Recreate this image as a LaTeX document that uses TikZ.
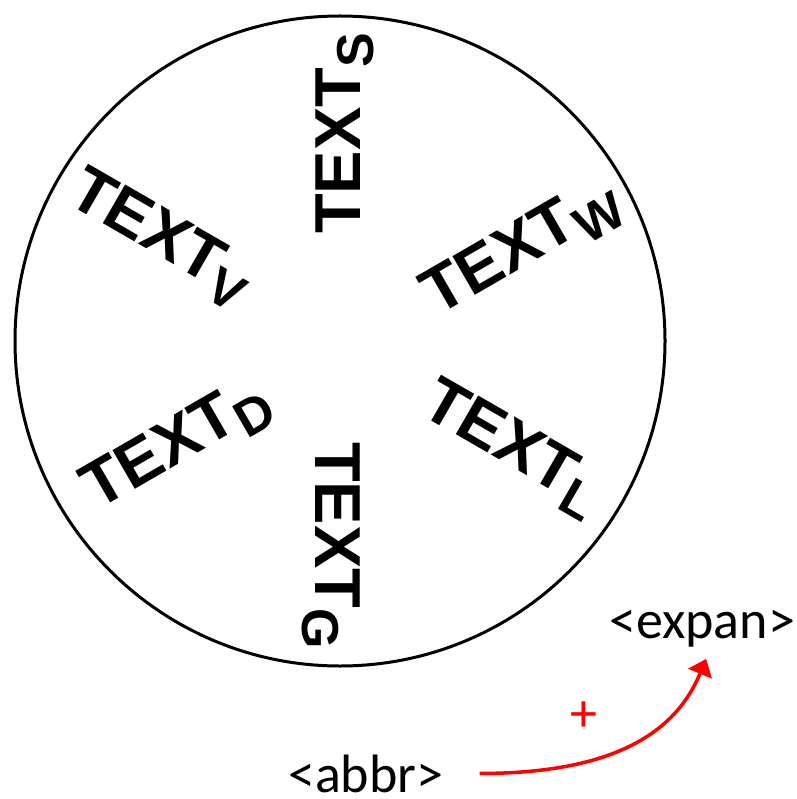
\documentclass[tikz,border=0pt]{standalone}
\usepackage{fontspec}
\usetikzlibrary{arrows.meta}
\newfontfamily\lsans{Liberation Sans}
\newfontfamily\calib{Carlito}
\newcommand\sbx[1]{\raisebox{-13pt}{\fontsize{52}{52}\selectfont #1}}
\definecolor{arrred}{RGB}{255,0,0}
\tikzset{
  big/.style={font=\lsans\bfseries\fontsize{65}{65}\selectfont, inner sep=0pt, anchor=base west},
  lab/.style={font=\calib\fontsize{54}{54}\selectfont, inner sep=0pt, anchor=base west},
  ring/.style={draw=black, line width=3pt},
  conn/.style={draw=arrred, line width=3.5pt, -{Triangle[length=16pt,width=25pt]}}
}
\begin{document}
\begin{tikzpicture}[x=1pt,y=-1pt]
\useasboundingbox (0,0) rectangle (796,799);
\draw[ring] (340,341) circle[radius=325pt];
\node[big, rotate=90] (ts) at (360,234) {TEXT\sbx{S}};
\node[big, rotate=30] (tw) at (437,317) {TEXT\sbx{W}};
\node[big, rotate=-30] (tl) at (418,413) {TEXT\sbx{L}};
\begin{scope}
\clip (0,0) rectangle (796,645);
\node[big, rotate=-90] (tg) at (315,442) {TEXT\sbx{G}};
\end{scope}
\node[big, rotate=30] (td) at (97,511) {TEXT\sbx{D}};
\node[big, rotate=-30] (tv) at (65,202) {TEXT\sbx{V}};
\node[lab] (abbr) at (288,792) {<abbr>};
\node[lab] (expan) at (609,638) {<expan>};
\node[font=\calib\fontsize{54}{54}\selectfont, text=arrred, inner sep=0pt] (plus) at (583.5,716.5) {+};
\draw[conn] ([xshift=36pt]abbr.east) .. controls +(140pt,0pt) and +(-29pt,-70pt) .. ([xshift=4pt,yshift=-12pt]expan.south);
\end{tikzpicture}
\end{document}
